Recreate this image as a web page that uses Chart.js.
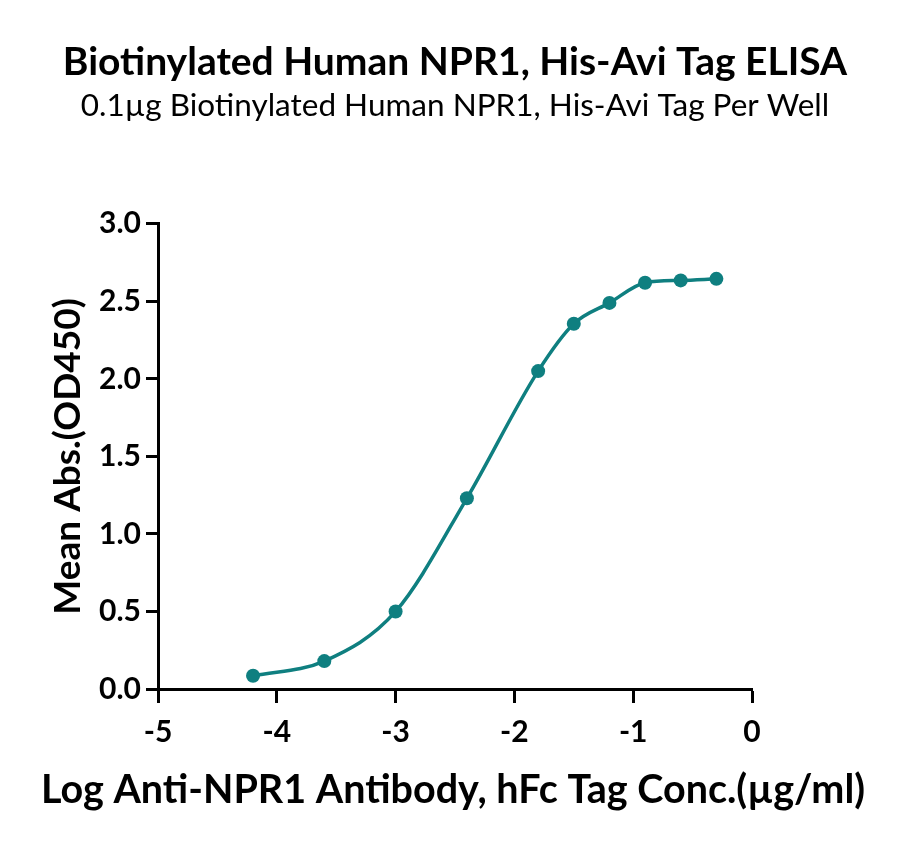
<!DOCTYPE html>
<html>
<head>
<meta charset="utf-8">
<script src="https://cdn.jsdelivr.net/npm/chart.js@4/dist/chart.umd.min.js"></script>
<style>
  html, body { margin: 0; padding: 0; background: #fff; }
  #wrap { width: 900px; height: 844px; }
</style>
</head>
<body>
<div id="wrap"><canvas id="c" width="900" height="844"></canvas></div>
<script>
// ---- data ----
const logConc = [-4.2, -3.6, -3.0, -2.4, -1.8, -1.5, -1.2, -0.9, -0.6, -0.3];
const meanAbs = [0.085, 0.18, 0.50, 1.23, 2.05, 2.355, 2.49, 2.62, 2.635, 2.645];
const xTickLabels = ['-5', '-4', '-3', '-2', '-1', '0'];
const yTickLabels = ['0.0', '0.5', '1.0', '1.5', '2.0', '2.5', '3.0'];
const titleText = 'Biotinylated Human NPR1, His-Avi Tag ELISA';
const subtitleText = '0.1\u00b5g Biotinylated Human NPR1, His-Avi Tag Per Well';
const xTitleText = 'Log Anti-NPR1 Antibody, hFc Tag Conc.(\u00b5g/ml)';
const yTitleText = 'Mean Abs.(OD450)';

const teal = '#0f7f80';
const FONT = 'Lato, "Source Sans Pro", "Noto Sans", sans-serif';

const points = logConc.map((x, i) => ({ x: x, y: meanAbs[i] }));

// x-axis title drawn without width compression (it is wider than the plot area)
const xTitlePlugin = {
  id: 'xTitle',
  afterDraw(chart) {
    const ctx = chart.ctx;
    const xs = chart.scales.x;
    ctx.save();
    ctx.fillStyle = '#000';
    ctx.font = 'bold 39.5px ' + FONT;
    ctx.textAlign = 'center';
    ctx.textBaseline = 'middle';
    ctx.fillText(xTitleText, (xs.left + xs.right) / 2 - 2, xs.bottom - 54);
    ctx.restore();
  }
};

new Chart(document.getElementById('c'), {
  type: 'scatter',
  data: {
    datasets: [{
      data: points,
      showLine: true,
      borderColor: teal,
      backgroundColor: teal,
      borderWidth: 3.5,
      pointRadius: 7,
      pointHoverRadius: 7,
      pointBackgroundColor: teal,
      pointBorderWidth: 0,
      cubicInterpolationMode: 'monotone'
    }]
  },
  plugins: [xTitlePlugin],
  options: {
    responsive: false,
    animation: false,
    events: [],
    layout: { padding: { left: 10, right: 0, top: 0, bottom: 0 } },
    plugins: {
      legend: { display: false },
      tooltip: { enabled: false },
      title: {
        display: true,
        text: titleText,
        color: '#000',
        font: { family: FONT, size: 39, weight: 'bold' },
        padding: { top: 38.6, bottom: 0 }
      },
      subtitle: {
        display: true,
        text: subtitleText,
        color: '#000',
        font: { family: FONT, size: 31.5, weight: 'normal' },
        padding: { top: 2, bottom: 98.6 }
      }
    },
    scales: {
      x: {
        type: 'linear',
        min: -5, max: 0,
        afterFit: s => { s.height = 155; },
        border: { display: true, color: '#000', width: 3 },
        grid: { display: true, drawOnChartArea: false, drawTicks: true, tickLength: 14, tickColor: '#000', tickWidth: 3 },
        ticks: {
          stepSize: 1,
          color: '#000',
          padding: 11,
          font: { family: FONT, size: 30, weight: 'bold' },
          callback: (v) => xTickLabels[Math.round(v + 5)]
        },
        title: { display: false }
      },
      y: {
        type: 'linear',
        min: 0, max: 3,
        afterFit: s => { s.width = 148; },
        border: { display: true, color: '#000', width: 3 },
        grid: { display: true, drawOnChartArea: false, drawTicks: true, tickLength: 12, tickColor: '#000', tickWidth: 3 },
        ticks: {
          stepSize: 0.5,
          color: '#000',
          padding: 5,
          font: { family: FONT, size: 30, weight: 'bold' },
          callback: (v) => yTickLabels[Math.round(v * 2)]
        },
        title: {
          display: true,
          text: yTitleText,
          color: '#000',
          font: { family: FONT, size: 37, weight: 'bold' },
          padding: { top: 36, bottom: 0 }
        }
      },
      yRight: {
        type: 'linear',
        position: 'right',
        min: 0, max: 3,
        afterFit: s => { s.width = 148; },
        border: { display: false },
        grid: { display: false },
        ticks: { display: false },
        title: { display: false }
      }
    }
  }
});
</script>
</body>
</html>
